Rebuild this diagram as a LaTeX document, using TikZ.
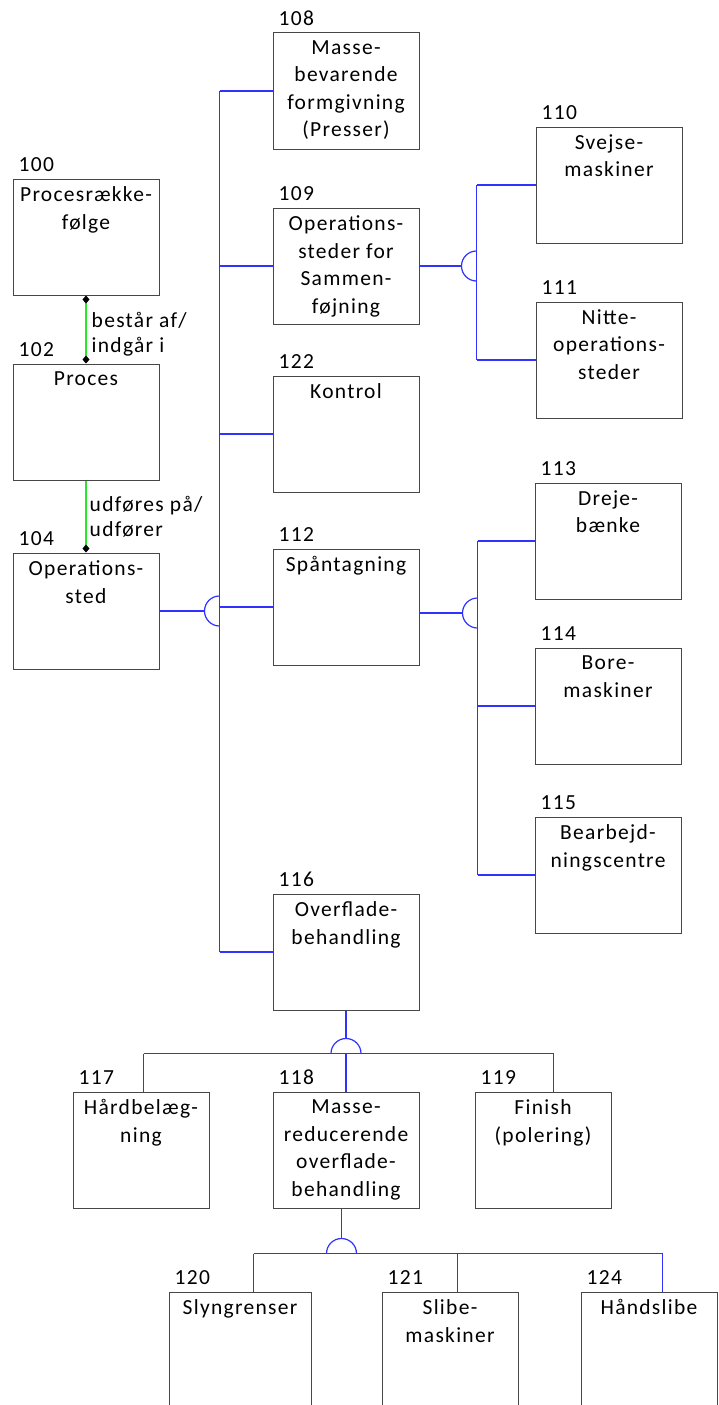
\documentclass[tikz,border=0pt]{standalone}
\usepackage{fontspec}
\setmainfont{Carlito}[LetterSpace=6]
\usetikzlibrary{arrows.meta}
\definecolor{connblue}{RGB}{50,50,255}
\definecolor{assoc}{RGB}{40,230,40}
\tikzset{
  boxst/.style={draw=black!72, line width=1pt, inner sep=0pt, anchor=north west},
  txt/.style={align=center, inner sep=0pt, font=\fontsize{21.5}{27.5}\selectfont, anchor=north},
  num/.style={inner sep=0pt, font=\fontsize{21.5}{27}\selectfont, anchor=base west},
  rellbl/.style={align=left, inner sep=0pt, font=\fontsize{21.5}{25}\selectfont, anchor=north west},
  connector/.style={draw=connblue, line width=1.2pt},
  rel/.style={draw=assoc, line width=1.2pt},
  dia/.tip={Diamond[color=black,length=8pt,width=7pt]},
}
\newcommand\mybox[7]{%
  \node[boxst, minimum width={(#4)-(#2)}, minimum height={(#5)-(#3)}] (#1) at (#2,-#3) {};
  \node[txt] (#1t) at ([yshift=-8pt]#1.north) {#7};
  \node[num] (#1n) at ([xshift=6pt,yshift=7pt]#1.north west) {#6};
}
\begin{document}
\begin{tikzpicture}[x=1pt,y=1pt]
\useasboundingbox (-0.5,0.5) rectangle (717.5,-1404.5);
\clip (-0.5,0.5) rectangle (717.5,-1404.5);
\fill[white] (-0.5,0.5) rectangle (717.5,-1404.5);

% boxes
\mybox{b100}{12}{178}{158}{294}{100}{Procesrække-\\følge}
\mybox{b102}{12}{363}{158}{479}{102}{Proces}
\mybox{b104}{12}{552}{158}{668}{104}{Operations-\\sted}
\mybox{b108}{272}{32}{418}{148}{108}{Masse-\\bevarende\\formgivning\\(Presser)}
\mybox{b109}{272}{207}{418}{323}{109}{Operations-\\steder for\\Sammen-\\føjning}
\mybox{b122}{272}{375}{418}{491}{122}{Kontrol}
\mybox{b112}{272}{548}{418}{664}{112}{Spåntagning}
\mybox{b116}{272}{893}{418}{1009}{116}{Overflade-\\behandling}
\mybox{b110}{535}{126}{681}{242}{110}{Svejse-\\maskiner}
\mybox{b111}{535}{301}{681}{417}{111}{Nitte-\\operations-\\steder}
\mybox{b113}{534}{482}{680}{598}{113}{Dreje-\\bænke}
\mybox{b114}{534}{647}{680}{763}{114}{Bore-\\maskiner}
\mybox{b115}{534}{816}{680}{932}{115}{Bearbejd-\\ningscentre}
\mybox{b117}{72}{1091}{208}{1207}{117}{Hårdbelæg-\\ning}
\mybox{b118}{272}{1091}{418}{1207}{118}{Masse-\\reducerende\\overflade-\\behandling}
\mybox{b119}{474}{1091}{610}{1207}{119}{Finish\\(polering)}
\mybox{b120}{168}{1291}{310}{1431}{120}{Slyngrenser}
\mybox{b121}{381}{1291}{517}{1431}{121}{Slibe-\\maskiner}
\mybox{b124}{580}{1291}{716}{1431}{124}{Håndslibe}

% association links (green)
\draw[rel, dia-dia] (b100.south) -- (b102.north);
\draw[rel, -dia] (b102.south) -- (b102.south |- b104.north);
\node[rellbl] (r1) at (91,-312) {består af/\\indgår i};
\node[rellbl] (r2) at (89,-496) {udføres på/\\udfører};

% main bus
\coordinate (busx) at (219,0);
\draw[connector] (b108.west -| busx) -- (b116.west -| busx);
\draw[connector] (b108.west -| busx) -- (b108.west);
\draw[connector] (b109.west -| busx) -- (b109.west);
\draw[connector] (b122.west -| busx) -- (b122.west);
\draw[connector] (b112.west -| busx) -- (b112.west);
\draw[connector] (b116.west -| busx) -- (b116.west);
\coordinate (j1) at (b104.east -| busx);
\draw[connector] (b104.east) -- ([xshift=-15pt]j1);
\draw[connector] ([yshift=15pt]j1) arc[start angle=90, end angle=270, radius=15pt];

% bus for 109
\coordinate (bus2) at (476,0);
\draw[connector] (b110.west -| bus2) -- (b111.west -| bus2);
\draw[connector] (b110.west -| bus2) -- (b110.west);
\draw[connector] (b111.west -| bus2) -- (b111.west);
\coordinate (j2) at (b109.east -| bus2);
\draw[connector] (b109.east) -- ([xshift=-15pt]j2);
\draw[connector] ([yshift=15pt]j2) arc[start angle=90, end angle=270, radius=15pt];

% bus for 112
\coordinate (bus3) at (477,0);
\draw[connector] (b113.west -| bus3) -- (b115.west -| bus3);
\draw[connector] (b113.west -| bus3) -- (b113.west);
\draw[connector] (b114.west -| bus3) -- (b114.west);
\draw[connector] (b115.west -| bus3) -- (b115.west);
\coordinate (p112) at ([yshift=-6pt]b112.east);
\coordinate (j3) at (p112 -| bus3);
\draw[connector] (p112) -- ([xshift=-15pt]j3);
\draw[connector] ([yshift=15pt]j3) arc[start angle=90, end angle=270, radius=15pt];

% tree under 116
\coordinate (bar1) at (0,-1053);
\coordinate (j4) at (b116.south |- bar1);
\coordinate (t117) at (143,-1053);
\coordinate (t119) at (553,-1053);
\draw[connector] (b116.south) -- ([yshift=15pt]j4);
\draw[connector] ([xshift=-15pt]j4) arc[start angle=180, end angle=0, radius=15pt];
\draw[connector] (t117) -- (t119);
\draw[connector] (t117) -- (t117 |- b117.north);
\draw[connector] (j4) -- (j4 |- b118.north);
\draw[connector] (t119) -- (t119 |- b119.north);

% tree under 118
\coordinate (j5) at (341,-1253);
\coordinate (t120) at (253,-1253);
\coordinate (t121) at (457,-1253);
\coordinate (t124) at (662,-1253);
\draw[connector] (j5 |- b118.south) -- ([yshift=15pt]j5);
\draw[connector] ([xshift=-15pt]j5) arc[start angle=180, end angle=0, radius=15pt];
\draw[connector] (t120) -- (t124);
\draw[connector] (t120) -- (t120 |- b120.north);
\draw[connector] (t121) -- (t121 |- b121.north);
\draw[connector] (t124) -- (t124 |- b124.north);
\end{tikzpicture}
\end{document}
